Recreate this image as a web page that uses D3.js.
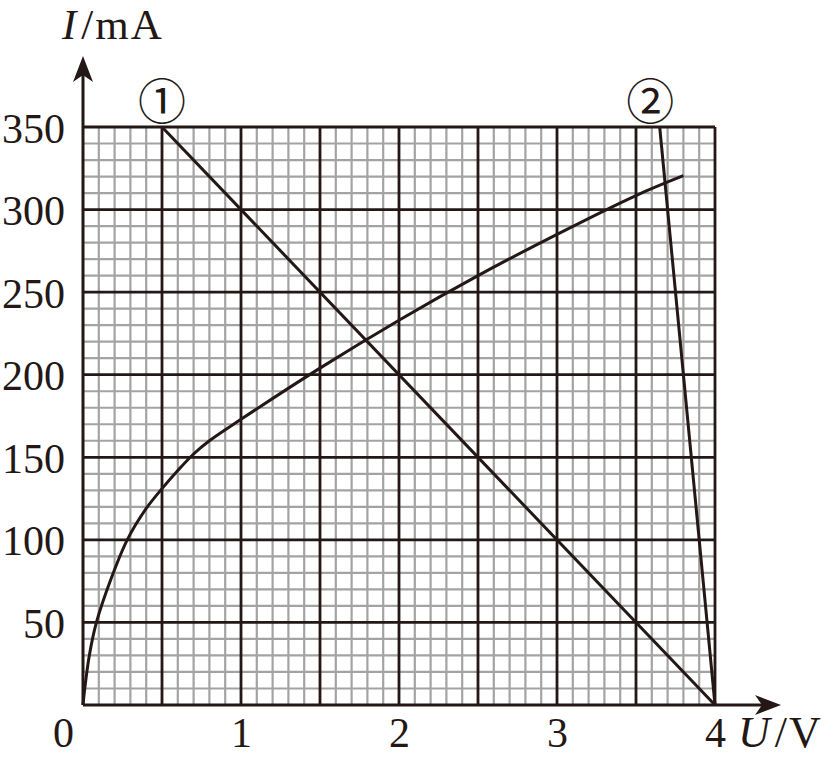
<!DOCTYPE html>
<html><head><meta charset="utf-8">
<script src="https://cdn.jsdelivr.net/npm/d3@7"></script>
<style>body{margin:0;background:#fff}svg{display:block}</style>
</head><body>
<script>
// Data
const xTickLabels = [0, 1, 2, 3, 4];
const yTickLabels = [50, 100, 150, 200, 250, 300, 350];
// Line ① and line ② (U in V, I in mA)
const line1U = [0.5, 4];
const line1I = [350, 0];
const line2U = [3.65, 4];
const line2I = [350, 0];
// Curve (I–U characteristic)
const curveU = [0, 0.01, 0.04, 0.085, 0.18, 0.28, 0.4, 0.5, 0.6, 0.7, 0.8, 1.0, 1.5, 2.0, 2.5, 3.0, 3.5, 3.8];
const curveI = [0, 9, 30, 50, 77, 100, 119, 131, 142, 152, 160, 173, 204, 233, 260, 285, 308.5, 320.5];
const lineLabels = ["①", "②"];
const lineLabelU = [0.5, 3.59];

const W = 826, H = 757;
const dark = "#231815", gray = "#a3a3a3";
const svg = d3.select("body").append("svg").attr("width", W).attr("height", H);
const x = d3.scaleLinear().domain([0, 4]).range([83, 715]);
const y = d3.scaleLinear().domain([0, 350]).range([705, 127]);

const g = svg.append("g");
// minor grid
const minorX = d3.range(1, 40).map(i => i / 10).filter(v => Math.abs(v * 2 - Math.round(v * 2)) > 1e-6);
const minorY = d3.range(1, 35).map(i => i * 10).filter(v => v % 50 !== 0);
g.selectAll(".mx").data(minorX).join("line").attr("x1", d => x(d)).attr("x2", d => x(d))
  .attr("y1", y(0)).attr("y2", y(350)).attr("stroke", gray).attr("stroke-width", 2.2);
g.selectAll(".my").data(minorY).join("line").attr("y1", d => y(d)).attr("y2", d => y(d))
  .attr("x1", x(0)).attr("x2", x(4)).attr("stroke", gray).attr("stroke-width", 2.2);
// major grid
const majorX = d3.range(1, 9).map(i => i / 2);
const majorY = d3.range(1, 8).map(i => i * 50);
g.selectAll(".Mx").data(majorX).join("line").attr("x1", d => x(d)).attr("x2", d => x(d))
  .attr("y1", y(0)).attr("y2", y(350)).attr("stroke", dark).attr("stroke-width", 2.8);
g.selectAll(".My").data(majorY).join("line").attr("y1", d => y(d)).attr("y2", d => y(d))
  .attr("x1", x(0)).attr("x2", x(4)).attr("stroke", dark).attr("stroke-width", 2.8);

// axes with arrows
svg.append("line").attr("x1", x(0)).attr("x2", 768).attr("y1", y(0)).attr("y2", y(0)).attr("stroke", dark).attr("stroke-width", 3);
svg.append("line").attr("x1", x(0)).attr("x2", x(0)).attr("y1", y(0)).attr("y2", 70).attr("stroke", dark).attr("stroke-width", 3);
svg.append("path").attr("d", `M781,${y(0)} L755,${y(0)-10} L762,${y(0)} L755,${y(0)+10} Z`).attr("fill", dark);
svg.append("path").attr("d", `M${x(0)},56 L${x(0)-10},82 L${x(0)},75 L${x(0)+10},82 Z`).attr("fill", dark);

// data lines
const lineGen = d3.line().x(d => x(d[0])).y(d => y(d[1]));
svg.append("path").attr("d", lineGen(line1U.map((u, i) => [u, line1I[i]])))
  .attr("fill", "none").attr("stroke", dark).attr("stroke-width", 3);
svg.append("path").attr("d", lineGen(line2U.map((u, i) => [u, line2I[i]])))
  .attr("fill", "none").attr("stroke", dark).attr("stroke-width", 3);
const curveGen = d3.line().x(d => x(d[0])).y(d => y(d[1])).curve(d3.curveCatmullRom.alpha(0.5));
svg.append("path").attr("d", curveGen(curveU.map((u, i) => [u, curveI[i]])))
  .attr("fill", "none").attr("stroke", dark).attr("stroke-width", 3);

// tick labels via axes
const font = "'Liberation Serif', 'Times New Roman', serif";
const yAxis = svg.append("g").attr("transform", `translate(${x(0)},0)`)
  .call(d3.axisLeft(y).tickValues(yTickLabels).tickSize(0).tickPadding(18));
yAxis.select(".domain").remove();
yAxis.selectAll("text").attr("font-family", font).attr("font-size", 42).attr("fill", dark).attr("dy", "0.36em");
const xAxis = svg.append("g").attr("transform", `translate(0,${y(0)})`)
  .call(d3.axisBottom(x).tickValues(xTickLabels).tickFormat(d3.format("d")).tickSize(0).tickPadding(12));
xAxis.select(".domain").remove();
xAxis.selectAll("text").attr("font-family", font).attr("font-size", 42).attr("fill", dark).attr("dy", "0.71em")
  .attr("dx", d => d === 0 ? -20 : 0);

// axis titles
const yt = svg.append("text").attr("x", 62).attr("y", 39).attr("font-family", font).attr("font-size", 43)
  .attr("letter-spacing", 2).attr("fill", dark);
yt.append("tspan").attr("font-style", "italic").text("I");
yt.append("tspan").attr("dx", 3).text("/mA");
const xt = svg.append("text").attr("x", 738).attr("y", 747).attr("font-family", font).attr("font-size", 44)
  .attr("letter-spacing", 2).attr("fill", dark);
xt.append("tspan").attr("font-style", "italic").text("U");
xt.append("tspan").attr("dx", 3).text("/V");

// circled labels
svg.selectAll(".lbl").data(lineLabels).join("text")
  .attr("x", (d, i) => x(lineLabelU[i])).attr("y", 98).attr("text-anchor", "middle").attr("dominant-baseline", "central")
  .attr("font-family", "'Noto Sans CJK SC', 'DejaVu Sans', sans-serif").attr("font-size", 48).attr("fill", dark)
  .text(d => d);
</script>
</body></html>
